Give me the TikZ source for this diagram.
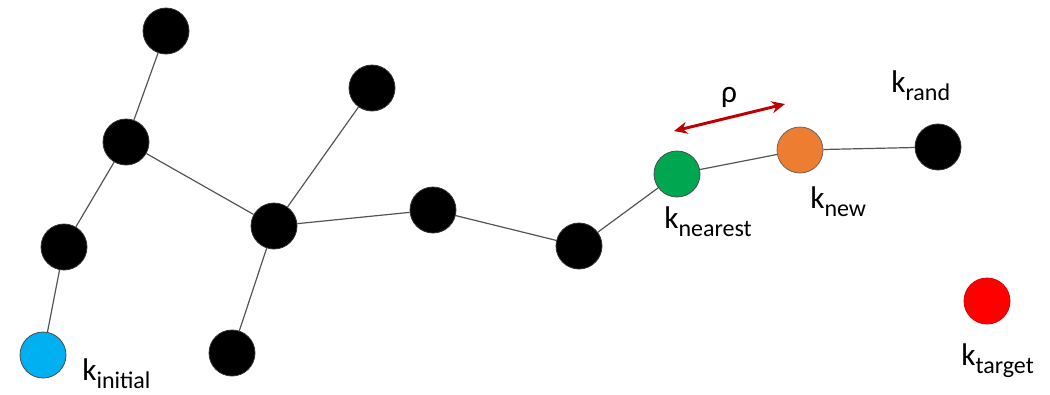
\documentclass[tikz,border=0pt]{standalone}
\usepackage{fontspec}
\setmainfont{Carlito}
\usetikzlibrary{arrows.meta}
\definecolor{edgegray}{RGB}{85,85,85}
\definecolor{kblue}{RGB}{0,176,240}
\definecolor{kgreen}{RGB}{0,166,80}
\definecolor{korange}{RGB}{237,125,49}
\definecolor{kred}{RGB}{255,0,0}
\definecolor{arrowred}{RGB}{192,0,0}
\newcommand{\klabel}[1]{k\raisebox{-0.28em}{\fontsize{18}{18}\selectfont #1}}
\tikzset{
  vertex/.style={circle, minimum size=34.5pt, inner sep=0pt, fill=black, draw=black!80, line width=0.6pt},
  link/.style={draw=edgegray, line width=0.9pt},
  lbl/.style={anchor=base west, inner sep=0pt, font=\fontsize{23.5}{23.5}\selectfont},
}
\begin{document}
\begin{tikzpicture}[x=0.75pt, y=-0.75pt]
\useasboundingbox (0,0) rectangle (1050,394);
% tree nodes
\node[vertex] (t1) at (166,31) {};
\node[vertex] (t2) at (126,142) {};
\node[vertex] (t3) at (64,247) {};
\node[vertex, fill=kblue, draw=black!70] (init) at (43,355) {};
\node[vertex] (t4) at (274,226) {};
\node[vertex] (t5) at (372,88) {};
\node[vertex] (t6) at (232,353) {};
\node[vertex] (t7) at (433,210) {};
\node[vertex] (t8) at (579,246) {};
\node[vertex, fill=kgreen, draw=black!70] (near) at (677,174) {};
\node[vertex, fill=korange, draw=black!60] (new) at (800,150) {};
\node[vertex] (rand) at (938,147) {};
\node[vertex, fill=kred, draw=kred!85!black] (target) at (987,301) {};
% edges
\draw[link] (t1) -- (t2);
\draw[link] (t2) -- (t3);
\draw[link] (t3) -- (init);
\draw[link] (t2) -- (t4);
\draw[link] (t4) -- (t5);
\draw[link] (t4) -- (t6);
\draw[link] (t4) -- (t7);
\draw[link] (t7) -- (t8);
\draw[link] (t8) -- (near);
\draw[link] (near) -- (new);
\draw[link] (new) -- (rand);
% step length arrow
\coordinate (rhoA) at (674,131);
\coordinate (rhoB) at (785,104);
\draw[arrowred, line width=2.2pt, {Stealth[length=10pt,width=9pt]}-{Stealth[length=10pt,width=9pt]}] (rhoA) -- (rhoB);
\node[inner sep=0pt, font=\fontsize{23.5}{23.5}\selectfont] (rho) at (729,97) {ρ};
% labels
\node[lbl] (Linit) at (82,380) {\klabel{initial}};
\node[lbl] (Lnear) at (664,228) {\klabel{nearest}};
\node[lbl] (Lnew) at (810,208) {\klabel{new}};
\node[lbl] (Lrand) at (891,92) {\klabel{rand}};
\node[lbl] (Ltarget) at (961,365) {\klabel{target}};
\end{tikzpicture}
\end{document}
